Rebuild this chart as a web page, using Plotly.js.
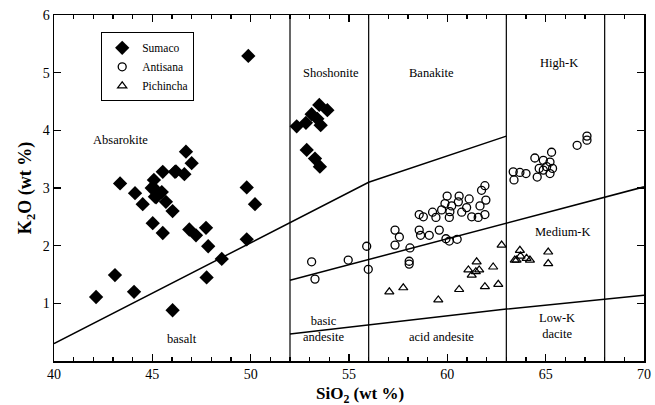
<!DOCTYPE html>
<html>
<head>
<meta charset="utf-8">
<script src="https://cdn.plot.ly/plotly-3.0.1.min.js"></script>
<style>html,body{margin:0;padding:0;background:#fff;}#chart{width:655px;height:405px;}</style>
</head>
<body>
<div id="chart"></div>
<script>
// Sumaco (filled diamonds)
var sumacoSiO2 = [43.36,44.12,44.51,45.02,45.53,45.53,46.15,45.08,44.97,45.48,45.19,45.69,46.03,46.71,47.0,46.2,46.63,45.05,45.13,49.8,50.22,46.88,47.73,47.22,47.84,49.8,42.14,43.1,44.07,46.03,47.76,48.53,49.88,52.34,52.81,53.1,53.49,53.9,53.39,53.56,52.85,53.27,53.52];
var sumacoK2O  = [3.08,2.91,2.72,2.39,2.22,3.28,3.28,3.14,3.0,2.93,2.84,2.76,2.6,3.63,3.43,3.29,3.24,3.01,2.85,3.01,2.72,2.28,2.31,2.18,1.99,2.11,1.11,1.49,1.2,0.88,1.45,1.77,5.29,4.07,4.13,4.28,4.44,4.35,4.2,4.09,3.66,3.51,3.37];
// Antisana (open circles)
var antisanaSiO2 = [61.91,61.74,59.99,60.6,61.11,61.96,59.88,60.22,60.56,60.98,61.66,59.71,60.13,60.73,58.57,59.25,59.42,60.1,61.24,61.57,61.91,58.78,57.34,57.56,57.34,58.57,59.08,58.64,59.59,59.93,60.1,60.5,58.1,58.06,58.06,53.1,53.27,54.96,55.9,55.98,63.35,63.69,64.0,63.39,64.45,64.57,64.88,65.3,65.22,65.05,65.35,64.67,64.88,65.22,66.6,67.1,67.1];
var antisanaK2O  = [3.04,2.96,2.86,2.86,2.81,2.79,2.73,2.69,2.76,2.66,2.69,2.62,2.59,2.58,2.54,2.58,2.49,2.49,2.5,2.49,2.54,2.5,2.27,2.15,2.01,2.27,2.18,2.18,2.27,2.12,2.08,2.11,1.96,1.73,1.68,1.72,1.42,1.75,1.99,1.59,3.28,3.27,3.25,3.14,3.52,3.19,3.48,3.62,3.45,3.37,3.34,3.34,3.31,3.25,3.74,3.9,3.83];
// Pichincha (open triangles)
var pichinchaSiO2 = [57.05,57.76,59.54,60.6,61.91,62.59,62.76,61.49,61.07,61.45,61.24,62.33,61.62,63.69,63.52,64.03,63.43,63.72,64.2,65.13,65.13];
var pichinchaK2O  = [1.2,1.27,1.06,1.24,1.29,1.33,2.01,1.72,1.58,1.55,1.49,1.63,1.58,1.92,1.75,1.78,1.75,1.82,1.75,1.89,1.69];
// Classification boundaries
var upperBoundSiO2 = [40,56,63];
var upperBoundK2O  = [0.3,3.1,3.9];
var midBoundSiO2 = [52,63,70];
var midBoundK2O  = [1.4,2.39,3.02];
var lowBoundSiO2 = [52,63,70];
var lowBoundK2O  = [0.47,0.9,1.14];
var verticalSiO2 = [52,56,63,68];
// Field labels
var fieldNames = ["Absarokite","Shoshonite","Banakite","High-K","Medium-K","Low-K<br>dacite","acid andesite","basic<br>andesite","basalt"];
var fieldSiO2  = [43.4,54.1,59.2,65.7,65.9,65.6,59.7,53.7,46.5];
var fieldK2O   = [3.83,5.0,5.0,5.16,2.24,0.6,0.42,0.55,0.38];
var xTicks = [40,45,50,55,60,65,70];
var yTicks = [1,2,3,4,5,6];

var serif = "Liberation Serif, Times New Roman, serif";
var lineStyle = {color:'black', width:1.5};
var traces = [];
traces.push({x:upperBoundSiO2, y:upperBoundK2O, mode:'lines', line:lineStyle, showlegend:false, hoverinfo:'skip'});
traces.push({x:midBoundSiO2, y:midBoundK2O, mode:'lines', line:lineStyle, showlegend:false, hoverinfo:'skip'});
traces.push({x:lowBoundSiO2, y:lowBoundK2O, mode:'lines', line:lineStyle, showlegend:false, hoverinfo:'skip'});
verticalSiO2.forEach(function(v){
  traces.push({x:[v,v], y:[0,6], mode:'lines', line:{color:'black', width:1.2}, showlegend:false, hoverinfo:'skip'});
});
traces.push({x:sumacoSiO2, y:sumacoK2O, mode:'markers', name:'Sumaco',
  marker:{symbol:'diamond', size:11, color:'black', line:{color:'black', width:0}}});
traces.push({x:antisanaSiO2, y:antisanaK2O, mode:'markers', name:'Antisana',
  marker:{symbol:'circle-open', size:8, color:'black', line:{color:'black', width:1.3}}});
traces.push({x:pichinchaSiO2, y:pichinchaK2O, mode:'markers', name:'Pichincha',
  marker:{symbol:'triangle-up-open', size:8, color:'black', line:{color:'black', width:1.2}}});

var annotations = fieldNames.map(function(t,i){
  return {x:fieldSiO2[i], y:fieldK2O[i], xref:'x', yref:'y', text:t, showarrow:false,
          font:{family:serif, size:12.5, color:'black'}};
});
annotations.push({x:0.5, xref:'paper', y:0, yref:'paper', yanchor:'middle', yshift:-34, xshift:11, text:'<b>SiO<sub>2</sub> (wt %)</b>',
  showarrow:false, font:{family:serif, size:17, color:'black'}});

var layout = {
  width:655, height:405,
  margin:{l:54, r:11, t:15, b:44},
  paper_bgcolor:'white', plot_bgcolor:'white',
  font:{family:serif, color:'black', size:14},
  showlegend:true,
  legend:{x:0.08, y:0.95, xanchor:'left', yanchor:'top', bordercolor:'black', borderwidth:1,
          bgcolor:'white', font:{family:serif, size:11.5}, tracegroupgap:0, itemwidth:30},
  xaxis:{range:[40,70], tickvals:xTicks, ticks:'inside', ticklen:7, tickwidth:1.2, tickcolor:'black',
         showline:true, linecolor:'black', linewidth:1.5, mirror:'ticks', showgrid:false, zeroline:false,
         minor:{dtick:1, ticks:'inside', ticklen:4, tickcolor:'black', showgrid:false},
         tickfont:{family:serif, size:14}},
  yaxis:{range:[0,6], tickvals:yTicks, ticks:'inside', ticklen:7, tickwidth:1.2, tickcolor:'black',
         showline:true, linecolor:'black', linewidth:1.5, mirror:'ticks', showgrid:false, zeroline:false,
         tickfont:{family:serif, size:14},
         title:{text:'<b>K<sub>2</sub>O (wt %)</b>', font:{family:serif, size:18}, standoff:6}},
  annotations:annotations
};
Plotly.newPlot('chart', traces, layout, {displayModeBar:false, staticPlot:true});
</script>
</body>
</html>
